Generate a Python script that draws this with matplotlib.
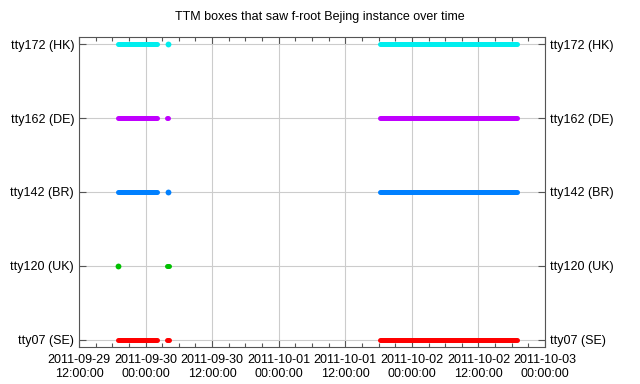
import matplotlib
matplotlib.use("Agg")
import matplotlib.pyplot as plt
import matplotlib.dates as mdates
from datetime import datetime

plt.rcParams['font.family'] = ['Liberation Sans', 'DejaVu Sans']

hosts = ["tty07 (SE)", "tty120 (UK)", "tty142 (BR)", "tty162 (DE)", "tty172 (HK)"]
colors = ["#ff0000", "#00c000", "#0080ff", "#c000ff", "#00eeee"]

# observed intervals (start, end) per host
intervals = {
    "tty07 (SE)": [("2011-09-29 19:05", "2011-09-30 02:05"),
                   ("2011-09-30 03:50", "2011-09-30 04:10"),
                   ("2011-10-01 18:10", "2011-10-02 19:00")],
    "tty120 (UK)": [("2011-09-29 19:05", "2011-09-29 19:05"),
                    ("2011-09-30 03:55", "2011-09-30 04:10")],
    "tty142 (BR)": [("2011-09-29 19:05", "2011-09-30 02:05"),
                    ("2011-09-30 04:00", "2011-09-30 04:00"),
                    ("2011-10-01 18:10", "2011-10-02 19:00")],
    "tty162 (DE)": [("2011-09-29 19:05", "2011-09-30 02:05"),
                    ("2011-09-30 03:55", "2011-09-30 04:05"),
                    ("2011-10-01 18:10", "2011-10-02 19:00")],
    "tty172 (HK)": [("2011-09-29 19:05", "2011-09-30 02:05"),
                    ("2011-09-30 04:00", "2011-09-30 04:00"),
                    ("2011-10-01 18:10", "2011-10-02 19:00")],
}

x_start = "2011-09-29 12:00"
x_end = "2011-10-03 00:00"
title = "TTM boxes that saw f-root Bejing instance over time"

def dt(s):
    return datetime.strptime(s, "%Y-%m-%d %H:%M")

fig = plt.figure(figsize=(6.4, 3.84), dpi=100)
ax = fig.add_axes([0.1234, 0.0964, 0.7282, 0.8072])

for i, (h, c) in enumerate(zip(hosts, colors)):
    for s, e in intervals[h]:
        if s == e:
            ax.plot([dt(s)], [i], 'o', color=c, ms=4.2, mew=0, zorder=3)
        else:
            ax.plot([dt(s), dt(e)], [i, i], color=c, lw=3.6,
                    solid_capstyle='round', zorder=3)

ax.set_xlim(dt(x_start), dt(x_end))
ax.set_ylim(-0.1, 4.1)
ax.set_yticks(range(len(hosts)))
ax.set_yticklabels(hosts)
ax.xaxis.set_major_locator(mdates.HourLocator(byhour=[0, 12]))
ax.xaxis.set_minor_locator(mdates.HourLocator(byhour=range(0, 24, 3)))
ax.xaxis.set_major_formatter(mdates.DateFormatter("%Y-%m-%d\n%H:%M:%S"))

ax.grid(True, which='major', color='#cccccc', lw=0.8, zorder=0)
ax.tick_params(axis='both', which='major', direction='in', length=5,
               labelsize=9, top=True, right=True, labelright=True,
               color='#555555', width=0.8)
ax.tick_params(axis='x', which='minor', direction='in', length=3,
               top=True, color='#555555', width=0.8)
ax.tick_params(axis='x', pad=5)
for sp in ax.spines.values():
    sp.set_color('#555555')
    sp.set_linewidth(0.8)

fig.text(0.5, 0.955, title, ha='center', va='center', fontsize=9)
fig.savefig("out.png", dpi=100)
